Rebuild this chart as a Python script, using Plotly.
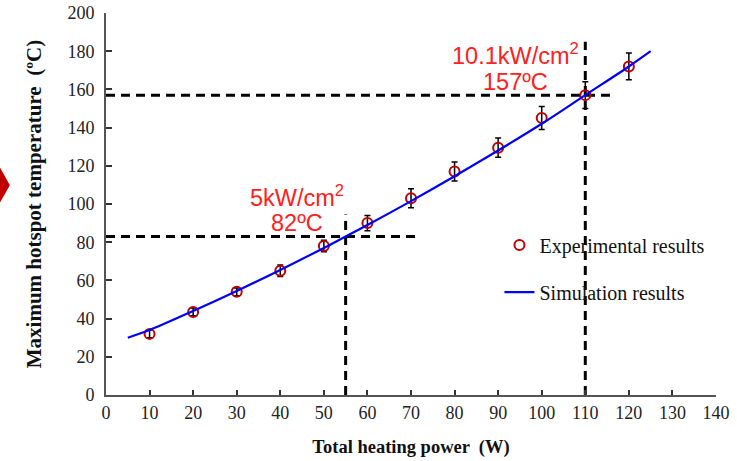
import plotly.graph_objects as go

# Experimental data
exp_power = [10, 20, 30, 40, 50, 60, 70, 80, 90, 100, 110, 120]
exp_temp = [32, 43.5, 54, 65, 78, 90, 103, 117, 129.5, 145, 157, 172]
exp_err = [2, 2, 2, 3, 3, 4, 5, 5, 5, 6, 7, 7]

# Simulation curve
sim_power = [5, 10, 20, 30, 40, 50, 55, 60, 70, 80, 90, 100, 110, 120, 125]
sim_temp = [30, 34, 44, 54.5, 65.5, 77, 83, 89, 101.5, 114.5, 128, 142, 157, 172, 180]

# Reference guide lines
guide1_x = [0, 71]; guide1_y = [83, 83]
guide1v_x = [55, 55]; guide1v_y = [0, 94.5]
guide2_x = [0, 117]; guide2_y = [157, 157]
guide2v_x = [110, 110]; guide2v_y = [0, 185]

x_ticks = list(range(0, 141, 10))
y_ticks = list(range(0, 201, 20))

serif = "Liberation Serif, Times New Roman, serif"
sans = "Liberation Sans, Arial, sans-serif"

fig = go.Figure()

dash_style = dict(color="black", width=3, dash="9px,6px")
for gx, gy in [(guide1_x, guide1_y), (guide1v_x, guide1v_y), (guide2_x, guide2_y), (guide2v_x, guide2v_y)]:
    fig.add_trace(go.Scatter(x=gx, y=gy, mode="lines", line=dash_style,
                             showlegend=False, hoverinfo="skip"))

fig.add_trace(go.Scatter(
    x=exp_power, y=exp_temp, mode="markers", name="Experimental results",
    legendgroup="a",
    marker=dict(symbol="circle-open", size=10, color="#c00000", line=dict(width=2, color="#c00000")),
    error_y=dict(type="data", array=exp_err, color="black", thickness=1.5, width=3),
))
fig.add_trace(go.Scatter(
    x=sim_power, y=sim_temp, mode="lines", name="Simulation results",
    legendgroup="b",
    line=dict(color="#0000ff", width=2.2, shape="spline"),
))

ann_font = dict(family=sans, size=23.5, color="#ff2020")
fig.add_annotation(x=43.8, y=104.2, text="5kW/cm<sup>2</sup>", showarrow=False, font=ann_font)
fig.add_annotation(x=43.8, y=89.8, text="82ºC", showarrow=False, font=ann_font)
fig.add_annotation(x=93.9, y=178.6, text="10.1kW/cm<sup>2</sup>", showarrow=False, font=ann_font)
fig.add_annotation(x=93.9, y=164.1, text="157ºC", showarrow=False, font=ann_font)

# decorative red marker at left edge
fig.add_shape(type="path", xref="paper", yref="paper",
              path="M -0.174 0.596 L -0.1576 0.549 L -0.174 0.503 Z",
              fillcolor="#c00000", line=dict(width=0))

fig.update_layout(
    width=737, height=461,
    margin=dict(l=106, r=21, t=13, b=66),
    paper_bgcolor="white", plot_bgcolor="white",
    font=dict(family=serif, size=18, color="#222"),
    legend=dict(x=0.645, y=0.331, xanchor="left", yanchor="middle",
                font=dict(family=serif, size=20, color="#111"),
                bgcolor="rgba(0,0,0,0)", tracegroupgap=18, traceorder="grouped"),
    xaxis=dict(range=[0, 140], tickvals=x_ticks, ticks="inside", ticklen=5, tickwidth=1.5,
               tickcolor="#333", showline=True, linecolor="#555", linewidth=2,
               showgrid=False, zeroline=False, automargin=False,
               title=dict(text="<b>Total heating power  (W)</b>", font=dict(family=serif, size=18.5, color="#111"), standoff=18)),
    yaxis=dict(range=[0, 200], tickvals=y_ticks, ticks="inside", ticklen=6, tickwidth=1.5,
               tickcolor="#333", showline=True, linecolor="#555", linewidth=2,
               showgrid=False, zeroline=False, ticklabelstandoff=6, automargin=False,
               title=dict(text="<b>Maximum hotspot temperature  (ºC)</b>", font=dict(family=serif, size=21, color="#111"), standoff=20)),
)

fig.write_html("out.html")
